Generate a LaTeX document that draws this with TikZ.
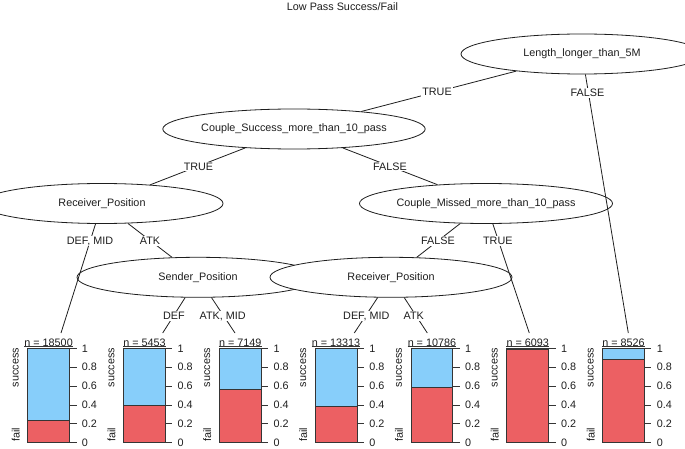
\documentclass[tikz,border=0pt]{standalone}
\usepackage{fontspec}
\setmainfont{Liberation Sans}
\usetikzlibrary{shapes.geometric}
\definecolor{succ}{RGB}{135,206,250}
\definecolor{failc}{RGB}{236,96,99}
\definecolor{ink}{RGB}{30,30,30}
\begin{document}
\begin{tikzpicture}[x=1pt,y=-1pt,
  txt/.style={font=\fontsize{10.8}{12}\selectfont, text=ink},
  inner/.style={ellipse, draw=ink, fill=white, line width=0.8pt, minimum width=242pt, minimum height=40pt, inner sep=0pt, txt},
  edge/.style={draw=ink, line width=0.8pt},
  elab/.style={fill=white, inner sep=1pt, txt},
  barline/.style={draw=ink!90, line width=0.8pt},
  ticklab/.style={anchor=west, inner sep=0pt, txt},
  ylab/.style={rotate=90, inner sep=0pt, txt}]
\useasboundingbox (0,0) rectangle (685,449);
\clip (0,0) rectangle (685,449);
\fill[white] (0,0) rectangle (685,449);

\node[txt] (title) at (342.5,7) {Low Pass Success/Fail};

% inner nodes
\node[inner] (root) at (582,54) {Length\_longer\_than\_5M};
\node[inner] (cs) at (294,129) {Couple\_Success\_more\_than\_10\_pass};
\node[inner] (rl) at (102,203.5) {Receiver\_Position};
\node[inner] (cm) at (486,203.5) {Couple\_Missed\_more\_than\_10\_pass};
\node[inner] (sp) at (198,277.3) {Sender\_Position};
\node[inner] (rr) at (391,277.3) {Receiver\_Position};

% leaf line ends
\coordinate (e0) at (61,333);
\coordinate (e1) at (162.7,333);
\coordinate (e2) at (235,333);
\coordinate (e3) at (354.3,333);
\coordinate (e4) at (427.3,333);
\coordinate (e5) at (529.3,333);
\coordinate (e6) at (628.3,333);

% edges
\draw[edge] (root) -- (cs);
\draw[edge] (root) -- (e6);
\draw[edge] (cs) -- (rl);
\draw[edge] (cs) -- (cm);
\draw[edge] (rl) -- (e0);
\draw[edge] (rl) -- (sp);
\draw[edge] (cm) -- (rr);
\draw[edge] (cm) -- (e5);
\draw[edge] (sp) -- (e1);
\draw[edge] (sp) -- (e2);
\draw[edge] (rr) -- (e3);
\draw[edge] (rr) -- (e4);

% edge labels
\node[elab] (l1) at (437,92) {TRUE};
\node[elab] (l2) at (587.5,92.7) {FALSE};
\node[elab] (l3) at (198.5,166.5) {TRUE};
\node[elab] (l4) at (390,166.5) {FALSE};
\node[elab] (l5) at (90,241) {DEF, MID};
\node[elab] (l6) at (150,241) {ATK};
\node[elab] (l7) at (438,241) {FALSE};
\node[elab] (l8) at (497.8,241) {TRUE};
\node[elab] (l9) at (174,316) {DEF};
\node[elab] (l10) at (222.7,316) {ATK, MID};
\node[elab] (l11) at (366.3,316) {DEF, MID};
\node[elab] (l12) at (413.7,316) {ATK};

% terminal panels
\foreach \i/\n/\f in {0/18500/0.233,1/5453/0.40,2/7149/0.566,3/13313/0.389,4/10786/0.587,5/6093/0.99,6/8526/0.883}{
  \pgfmathsetmacro\L{27.7+95.83*\i}
  \pgfmathsetmacro\R{\L+41.8}
  \pgfmathsetmacro\M{\L+20.9}
  \pgfmathsetmacro\Y{442.7-94.4*\f}
  \fill[succ] (\L,348.3) rectangle (\R,442.7);
  \fill[failc] (\L,\Y) rectangle (\R,442.7);
  \draw[barline] (\L,\Y) -- (\R,\Y);
  \draw[barline] (\L,348.3) rectangle (\R,442.7);
  \node[txt, anchor=south, inner sep=0pt] (n\i) at (\M,346.8) {n = \n};
  \draw[barline] (n\i.south west) -- (n\i.south east);
  \foreach \t in {0,0.2,0.4,0.6,0.8,1}{
    \draw[barline] (\R,{442.7-94.4*\t}) -- ++(7,0);
    \node[ticklab] at (\R+12.2,{442.7-94.4*\t}) {\t};
  }
  \node[ylab] (s\i) at (\L-12,367.5) {success};
  \node[ylab] (f\i) at (\L-12,435) {fail};
}
\end{tikzpicture}
\end{document}
